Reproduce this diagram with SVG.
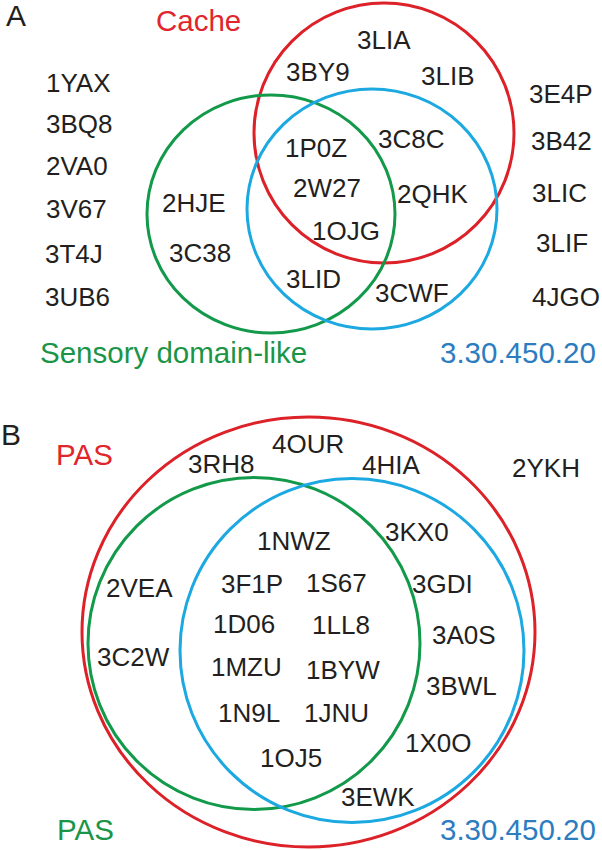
<svg xmlns="http://www.w3.org/2000/svg" width="602" height="850" viewBox="0 0 602 850">
<style>
.t{font-family:"Liberation Sans",Arial,sans-serif;font-size:26px;fill:#231f20}
.lab{font-family:"Liberation Sans",Arial,sans-serif;font-size:29.5px}
.pl{font-family:"Liberation Sans",Arial,sans-serif;font-size:30px;fill:#231f20}
.c{fill:none;stroke-width:3}
.red{stroke:#dc2128}.grn{stroke:#12994a}.blu{stroke:#1ca8e0}
.rt{fill:#e0262c}.gt{fill:#1a9548}.bt{fill:#2c7cc0}
</style>
<rect width="602" height="850" fill="#ffffff"/>
<g id="panelA">
<text class="pl" x="6" y="26">A</text>
<g id="setA-cache"><ellipse class="c red" cx="384" cy="133" rx="130" ry="130"/><text class="lab rt" x="156" y="31">Cache</text></g>
<g id="setA-sensory"><ellipse class="c grn" cx="271" cy="214" rx="124" ry="119"/><text class="lab gt" x="40" y="363">Sensory domain-like</text></g>
<g id="setA-3.30"><ellipse class="c blu" cx="372" cy="209" rx="125" ry="120"/><text class="lab bt" x="440" y="363">3.30.450.20</text></g>
<g id="A-outside-left">
<text class="t" x="46" y="92">1YAX</text>
<text class="t" x="46" y="133">3BQ8</text>
<text class="t" x="46" y="175">2VA0</text>
<text class="t" x="46" y="218">3V67</text>
<text class="t" x="45" y="263">3T4J</text>
<text class="t" x="45" y="306">3UB6</text>
</g>
<g id="A-outside-right">
<text class="t" x="529" y="103">3E4P</text>
<text class="t" x="531" y="150">3B42</text>
<text class="t" x="532" y="202">3LIC</text>
<text class="t" x="536" y="252">3LIF</text>
<text class="t" x="532" y="306">4JGO</text>
</g>
<g id="A-cache-only"><text class="t" x="357" y="49">3LIA</text><text class="t" x="286" y="81">3BY9</text><text class="t" x="421" y="85">3LIB</text></g>
<g id="A-cache-3.30"><text class="t" x="378" y="148">3C8C</text><text class="t" x="397" y="203">2QHK</text></g>
<g id="A-all"><text class="t" x="285" y="157">1P0Z</text><text class="t" x="293" y="197">2W27</text><text class="t" x="312" y="240">1OJG</text></g>
<g id="A-sensory-only"><text class="t" x="162" y="212">2HJE</text><text class="t" x="169" y="262">3C38</text></g>
<g id="A-sensory-3.30"><text class="t" x="286" y="288">3LID</text></g>
<g id="A-3.30-only"><text class="t" x="375" y="302">3CWF</text></g>
</g>
<g id="panelB">
<text class="pl" x="1" y="445">B</text>
<g id="setB-pas-red"><ellipse class="c red" cx="308.5" cy="632" rx="226.5" ry="215"/><text class="lab rt" x="56" y="465">PAS</text></g>
<g id="setB-pas-green"><circle class="c grn" cx="254" cy="643.5" r="166"/><text class="lab gt" x="57" y="840">PAS</text></g>
<g id="setB-3.30"><circle class="c blu" cx="352" cy="650.5" r="172"/><text class="lab bt" x="440" y="840">3.30.450.20</text></g>
<g id="B-outside"><text class="t" x="512" y="477">2YKH</text></g>
<g id="B-red-only"><text class="t" x="272" y="453">4OUR</text></g>
<g id="B-green"><text class="t" x="188" y="473">3RH8</text><text class="t" x="106" y="597">2VEA</text><text class="t" x="97" y="666">3C2W</text></g>
<g id="B-blue"><text class="t" x="362" y="474">4HIA</text><text class="t" x="385" y="541">3KX0</text><text class="t" x="412" y="593">3GDI</text><text class="t" x="432" y="644">3A0S</text><text class="t" x="426" y="695">3BWL</text><text class="t" x="405" y="752">1X0O</text><text class="t" x="341" y="806">3EWK</text></g>
<g id="B-green-blue">
<text class="t" x="257" y="550">1NWZ</text>
<text class="t" x="221" y="593">3F1P</text><text class="t" x="306" y="592">1S67</text>
<text class="t" x="213" y="633">1D06</text><text class="t" x="312" y="634">1LL8</text>
<text class="t" x="211" y="676">1MZU</text><text class="t" x="306" y="679">1BYW</text>
<text class="t" x="218" y="722">1N9L</text><text class="t" x="304" y="722">1JNU</text>
<text class="t" x="260" y="767">1OJ5</text>
</g>
</g>
</svg>
